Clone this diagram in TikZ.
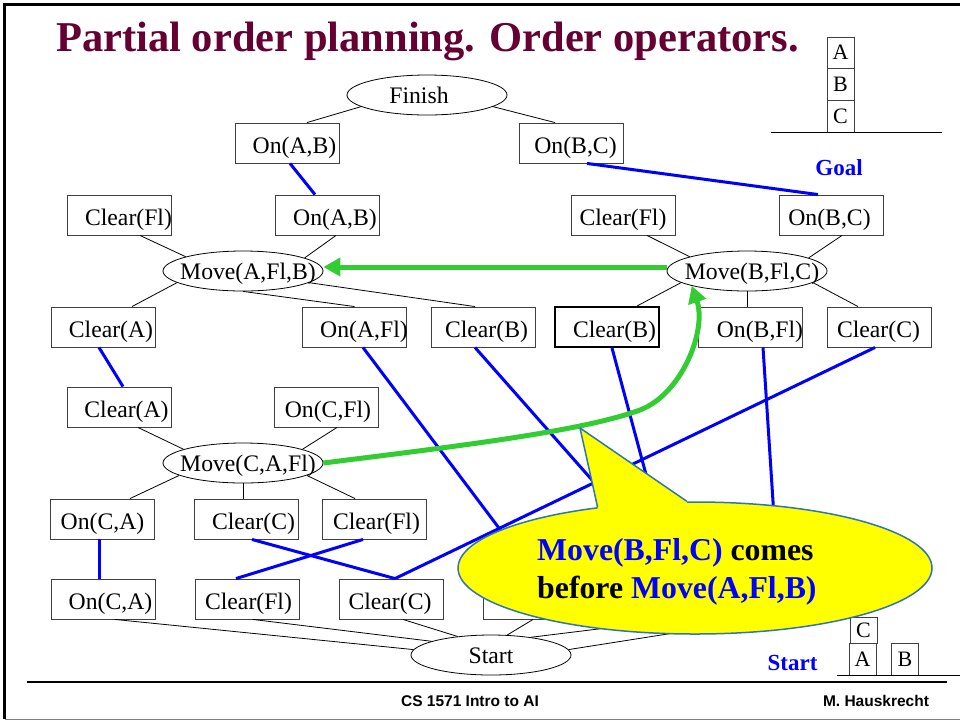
\documentclass[tikz,border=0pt]{standalone}
\usepackage{fontspec}
\setmainfont{Liberation Serif}
\newfontfamily\arialfont{Liberation Sans}
\usetikzlibrary{arrows.meta,shapes.geometric}
\definecolor{titlecol}{HTML}{660033}
\definecolor{bblue}{HTML}{0000FF}
\definecolor{ggreen}{HTML}{33CC33}
\definecolor{cbord}{HTML}{2E75B6}
\definecolor{yel}{HTML}{FFFF00}
\definecolor{boxgray}{HTML}{404040}
\tikzset{
 bx/.style={draw=boxgray, line width=0.9pt, rectangle, minimum width=104pt, minimum height=40pt, inner sep=0pt},
 ell/.style={draw=black, line width=0.8pt, ellipse, minimum width=160pt, minimum height=40pt, inner sep=0pt},
 txt/.style={font=\fontsize{23.7}{28}\selectfont, inner sep=0pt, anchor=base},
 cn/.style={line width=0.8pt, black},
 blu/.style={line width=3pt, bblue},
 grn/.style={line width=5pt, ggreen},
 blk/.style={draw=boxgray, line width=0.8pt, rectangle, minimum width=27pt, inner sep=0pt, font=\fontsize{22}{26}\selectfont},
 lbl/.style={font=\bfseries\fontsize{23}{28}\selectfont, text=bblue, inner sep=0pt, anchor=base},
 ftr/.style={font=\arialfont\bfseries\fontsize{15.5}{18}\selectfont, inner sep=0pt, anchor=base},
 ctext/.style={font=\bfseries\fontsize{31.8}{36}\selectfont, inner sep=0pt, anchor=base west},
}
\newcommand{\boxnode}[6][]{%
 \node[bx,#1] (#2) at (#3,#4) {};
 \node[txt] (#2-t) at ([xshift=#5pt,yshift=-10pt]#2.center) {#6};}
\newcommand{\ellnode}[5]{%
 \node[ell] (#1) at (#2,#3) {};
 \node[txt] (#1-t) at ([xshift=#4pt,yshift=-8pt]#1.center) {#5};}
\begin{document}
\begin{tikzpicture}[x=1pt,y=-1pt]
\useasboundingbox (0,0) rectangle (960,721);
% frame
\draw[line width=2.5pt] (4.5,719) -- (4.5,4.5) -- (960,4.5);
\draw[gray, line width=1pt] (4.5,719.5) -- (960,719.5);
% title
\node[anchor=base west, font=\bfseries\fontsize{42.5}{50}\selectfont, text=titlecol, inner sep=0pt] (title) at (56,51) {Partial order planning. Order operators.};
% goal stack
\node[blk, minimum height=31pt] (ga) at (840.5,52.5) {A};
\node[blk, minimum height=32pt] (gb) at (840.5,84) {B};
\node[blk, minimum height=32pt] (gc) at (840.5,116) {C};
\draw[cn] (771,132) -- (942,132);
\node[lbl] (goal) at (839,175) {Goal};
% start stack
\node[blk, minimum height=26pt] (sc) at (863.5,630) {C};
\node[blk, minimum height=32pt] (sa) at (862.5,659) {A};
\node[blk, minimum height=32pt] (sb) at (905,659) {B};
\draw[cn] (837,675) -- (960,675);
\node[lbl] (startlbl) at (792.5,670) {Start};
% ellipses
\ellnode{fin}{427}{95}{-8}{Finish}
\ellnode{mafb}{243}{271}{5}{Move(A,Fl,B)}
\ellnode{mbfc}{747}{271}{5}{Move(B,Fl,C)}
\ellnode{mcaf}{243}{463}{5}{Move(C,A,Fl)}
\ellnode{start}{491}{655}{0}{Start}
% boxes
\boxnode{onab1}{287}{143}{7.5}{On(A,B)}
\boxnode{onbc1}{571.5}{143}{4}{On(B,C)}
\boxnode{clfl2}{119}{215}{9.5}{Clear(Fl)}
\boxnode{onab2}{327}{215}{8}{On(A,B)}
\boxnode{clfl2r}{623}{215}{0}{Clear(Fl)}
\boxnode{onbc2}{831}{215}{-1.5}{On(B,C)}
\boxnode{cla3}{103}{327}{8}{Clear(A)}
\boxnode{onafl3}{354.5}{327}{9.5}{On(A,Fl)}
\boxnode{clb3}{483}{327}{3.5}{Clear(B)}
\boxnode[draw=black,line width=2pt]{clb3t}{607}{327}{7.5}{Clear(B)}
\boxnode{onbfl3}{750.5}{327}{9.5}{On(B,Fl)}
\boxnode{clc3}{879.5}{327}{-1}{Clear(C)}
\boxnode{cla4}{119}{407}{7.5}{Clear(A)}
\boxnode{oncfl4}{326.5}{407}{1.5}{On(C,Fl)}
\boxnode{onca5}{102}{519}{0.5}{On(C,A)}
\boxnode{clc5}{246}{519}{7.5}{Clear(C)}
\boxnode{clfl5}{374.5}{519}{2}{Clear(Fl)}
\boxnode{onca6}{103}{599}{7.5}{On(C,A)}
\boxnode{clfl6}{247}{599}{1.5}{Clear(Fl)}
\boxnode{clc6}{391}{599}{-1}{Clear(C)}
\node[bx] (hb1) at (535,599) {};
\node[bx] (hb2) at (662,599) {};
\node[bx] (hb3) at (772,599) {};
% thin connectors
\draw[cn] (fin.190) -- ([xshift=20pt]onab1.north);
\draw[cn] (fin.350) -- ([xshift=-16.5pt]onbc1.north);
\draw[cn] ([xshift=21pt]clfl2.south) -- (mafb.166);
\draw[cn] ([xshift=9pt]onab2.south) -- (mafb.12);
\draw[cn] (mafb.190) -- ([xshift=29pt]cla3.north);
\draw[cn] (mafb.south) -- (onafl3.north);
\draw[cn] (mafb.350) -- ([xshift=-8pt]clb3.north);
\draw[cn] ([xshift=24pt]clfl2r.south) -- (mbfc.166);
\draw[cn] ([xshift=11pt]onbc2.south) -- (mbfc.12);
\draw[cn] (mbfc.190) -- ([xshift=30pt]clb3t.north);
\draw[cn] (mbfc.south) -- (mbfc.south |- onbfl3.north);
\draw[cn] (mbfc.350) -- ([xshift=-21.5pt]clc3.north);
\draw[cn] ([xshift=19pt]cla4.south) -- (mcaf.167);
\draw[cn] ([xshift=10.5pt]oncfl4.south) -- (mcaf.13);
\draw[cn] (mcaf.191) -- ([xshift=28pt]onca5.north);
\draw[cn] (mcaf.south) -- (mcaf.south |- clc5.north);
\draw[cn] (mcaf.349) -- ([xshift=-19.5pt]clfl5.north);
\draw[cn] ([xshift=12pt]onca6.south) -- (start.176);
\draw[cn] ([xshift=6pt]clfl6.south) -- (start.167);
\draw[cn] ([xshift=12pt]clc6.south) -- (start.151);
\draw[cn] ([xshift=-2pt]hb1.south) -- (start.51);
\draw[cn] ([xshift=14pt]hb2.south) -- (start.24);
\draw[cn] ([xshift=-12pt]hb3.south) -- (start.4);
% blue causal links
\draw[blu] ([xshift=3pt]onab1.south) -- ([xshift=-12pt]onab2.north);
\draw[blu] ([xshift=15.5pt]onbc1.south) -- ([xshift=-13pt]onbc2.north);
\draw[blu] ([xshift=-4pt]cla3.south) -- ([xshift=4pt]cla4.north);
\draw[blu] ([xshift=8.5pt]onafl3.south) -- ([xshift=2pt]hb1.north);
\draw[blu] ([xshift=-8pt]clb3.south) -- ([xshift=17pt]hb2.north);
\draw[blu] ([xshift=5pt]clb3t.south) -- ([xshift=12pt]hb2.north);
\draw[blu] ([xshift=12.5pt]onbfl3.south) -- ([xshift=6pt]hb3.north);
\draw[blu] ([xshift=-4.5pt]clc3.south) -- ([xshift=4pt]clc6.north);
\draw[blu] ([xshift=-3pt]onca5.south) -- ([xshift=-4pt]onca6.north);
\draw[blu] ([xshift=6pt]clc5.south) -- ([xshift=4pt]clc6.north);
\draw[blu] ([xshift=-11.5pt]clfl5.south) -- ([xshift=-11pt]clfl6.north);
% green ordering arrows
\draw[grn, -{Triangle[length=17pt,width=18pt]}] ([yshift=4pt]mbfc.west) -- ([yshift=4pt]mafb.east);
\draw[grn, -{Triangle[length=17pt,width=18pt]}] (mcaf.east) .. controls (450,447) and (580,432) .. (640,410) .. controls (682,394) and (707,330) .. (mbfc.195);
% callout
\node[ellipse, draw=cbord, line width=1.5pt, fill=yel, minimum width=474pt, minimum height=132pt, inner sep=0pt] (callout) at (695,568) {};
\coordinate (tip) at (580,428);
\fill[yel] (tip) -- (callout.148) -- ([yshift=-8pt]callout.148) -- ([yshift=-8pt]callout.97) -- (callout.97) -- cycle;
\draw[cbord, line width=1.5pt, line join=round] (callout.148) -- (tip) -- (callout.97);
\node[ctext] (ct1) at (537,560) {\textcolor{bblue}{Move(B,Fl,C)} comes};
\node[ctext] (ct2) at (537,598) {before \textcolor{bblue}{Move(A,Fl,B)}};
% footer
\draw[line width=2pt] (27,682) -- (947,682);
\node[ftr] (f1) at (470,706) {CS 1571 Intro to AI};
\node[ftr] (f2) at (876,706) {M. Hauskrecht};
\end{tikzpicture}
\end{document}
